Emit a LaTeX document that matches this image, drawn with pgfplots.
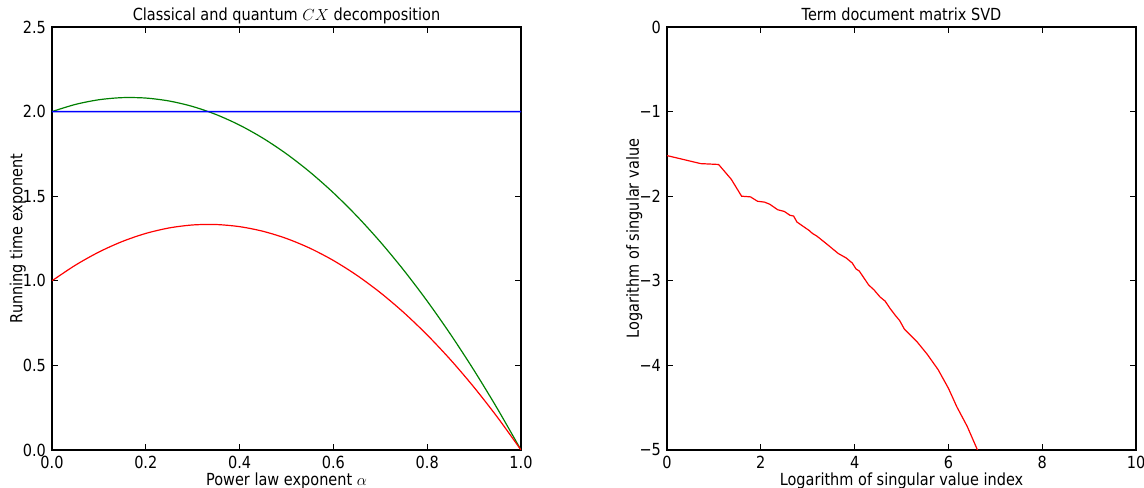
\documentclass[border=0pt]{standalone}
\usepackage{fontspec}
\setmainfont{DejaVu Sans}[FakeStretch=0.87]
\usepackage{pgfplots}
\pgfplotsset{compat=1.18}
\definecolor{mplblue}{RGB}{0,0,255}
\definecolor{mplgreen}{RGB}{0,128,0}
\definecolor{mplred}{RGB}{255,0,0}

\pgfplotsset{
  mplstyle/.style={
    scale only axis,
    width=351.75pt, height=317.25pt,
    axis line style={black, line width=0.8pt},
    tick style={black, line width=0.6pt},
    major tick length=4.5pt,
    minor tick num=0,
    /pgf/number format/assume math mode=true,
    tick label style={font=\fontsize{12.5}{14}\selectfont},
    label style={font=\fontsize{12.5}{14}\selectfont},
    title style={font=\fontsize{12.5}{14}\selectfont, at={(0.5,1)}, anchor=base, yshift=-1.4pt},
    xticklabel style={yshift=-1pt},
    yticklabel style={xshift=-1pt},
    xlabel style={yshift=4pt},
    ylabel style={yshift=-9pt},
  }
}

\begin{document}
\begin{tikzpicture}
\path[use as bounding box] (-39pt,-28.5pt) rectangle (819pt,337.5pt);

\begin{axis}[mplstyle,
  xmin=0, xmax=1, ymin=0, ymax=2.5,
  xtick={0,0.2,0.4,0.6,0.8,1.0},
  ytick={0,0.5,1.0,1.5,2.0,2.5},
  xticklabel style={/pgf/number format/.cd, fixed, fixed zerofill, precision=1},
  yticklabel style={/pgf/number format/.cd, fixed, fixed zerofill, precision=1},
  title={Classical and quantum $CX$ decomposition},
  xlabel={Power law exponent $\alpha$},
  ylabel={Running time exponent},
]
\addplot[mplgreen, line width=0.9pt, smooth] coordinates {
 (0,2) (0.05,2.0425) (0.1,2.07) (0.15,2.0825) (0.2,2.08) (0.25,2.0625)
 (0.3,2.03) (0.35,1.9825) (0.4,1.92) (0.45,1.8425) (0.5,1.75)
 (0.55,1.6425) (0.6,1.52) (0.65,1.3825) (0.7,1.23) (0.75,1.0625)
 (0.8,0.88) (0.85,0.6825) (0.9,0.47) (0.95,0.2425) (1,0)};
\addplot[mplred, line width=0.9pt, smooth] coordinates {
 (0,1) (0.05,1.0925) (0.1,1.17) (0.15,1.2325) (0.2,1.28) (0.25,1.3125)
 (0.3,1.33) (0.35,1.3325) (0.4,1.32) (0.45,1.2925) (0.5,1.25)
 (0.55,1.1925) (0.6,1.12) (0.65,1.0325) (0.7,0.93) (0.75,0.8125)
 (0.8,0.68) (0.85,0.5325) (0.9,0.37) (0.95,0.1925) (1,0)};
\addplot[draw=mplblue, line width=1.1pt] coordinates {(0,2) (0.5,2.0001) (1,2)};
\end{axis}

\begin{axis}[mplstyle, xshift=461.25pt,
  xmin=0, xmax=10, ymin=-5, ymax=0,
  xtick={0,2,4,6,8,10},
  ytick={-5,-4,-3,-2,-1,0},
  yticklabels={−5,−4,−3,−2,−1,0},
  title={Term document matrix SVD},
  xlabel={Logarithm of singular value index},
  ylabel={Logarithm of singular value},
]
\addplot[mplred, line width=0.9pt] coordinates {
 (0,-1.52) (0.72,-1.615) (1.10,-1.625) (1.37,-1.80) (1.59,-2.0)
 (1.78,-2.008) (1.93,-2.06) (2.08,-2.07) (2.19,-2.095) (2.36,-2.16)
 (2.5,-2.18) (2.62,-2.225) (2.70,-2.235) (2.77,-2.305) (2.86,-2.34)
 (3.03,-2.405) (3.1,-2.44) (3.19,-2.47) (3.26,-2.50) (3.45,-2.585)
 (3.65,-2.677) (3.82,-2.73) (3.95,-2.79) (4.03,-2.86) (4.10,-2.885)
 (4.30,-3.05) (4.41,-3.105) (4.54,-3.19) (4.65,-3.24) (4.76,-3.33)
 (4.87,-3.41) (4.96,-3.47) (5.06,-3.57) (5.33,-3.72) (5.55,-3.87)
 (5.78,-4.05) (6.0,-4.27) (6.18,-4.49) (6.40,-4.72) (6.62,-5.0)};
\end{axis}
\end{tikzpicture}
\end{document}
